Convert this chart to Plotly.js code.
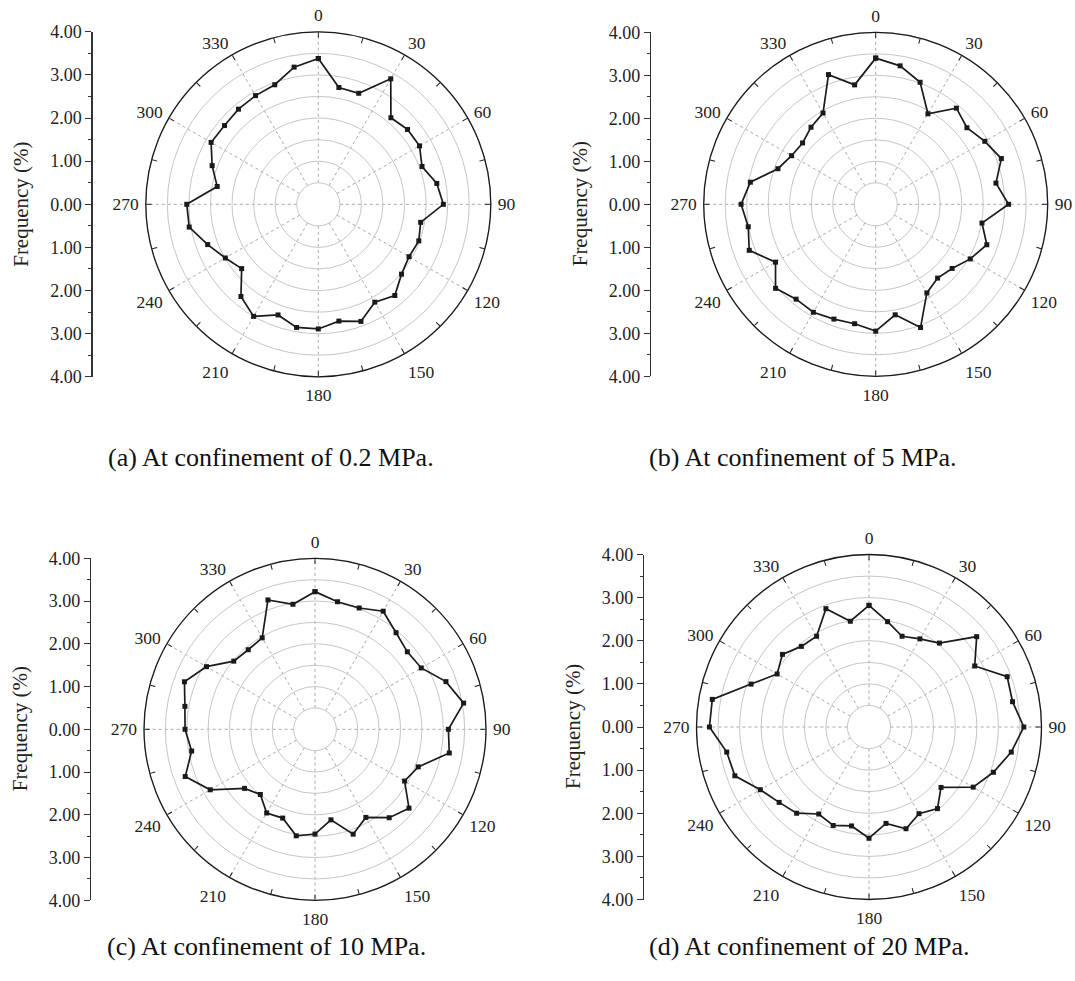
<!DOCTYPE html>
<html>
<head>
<meta charset="utf-8">
<script src="https://cdn.plot.ly/plotly-3.0.1.min.js"></script>
<style>
  html, body { margin: 0; padding: 0; background: #ffffff; }
  #chart { width: 1075px; height: 981px; }
</style>
</head>
<body>
<div id="chart"></div>
<script>
// Orientation of the sampled directions (degrees, clockwise from north)
const directions = [0, 10, 20, 30, 40, 50, 60, 70, 80, 90, 100, 110, 120, 130, 140, 150, 160, 170,
                    180, 190, 200, 210, 220, 230, 240, 250, 260, 270, 280, 290, 300, 310, 320, 330, 340, 350];

// Frequency (%) per direction at each confinement level
const freq02MPa = [3.38, 2.75, 2.74, 3.36, 2.62, 2.70, 2.71, 2.56, 2.79, 2.90, 2.41, 2.48, 2.43, 2.52, 2.76, 2.62, 2.89, 2.75,
                   2.89, 2.90, 2.73, 3.00, 2.79, 2.32, 2.49, 2.73, 3.04, 3.05, 2.38, 2.62, 2.87, 2.84, 2.88, 2.91, 2.95, 3.23];
const freq5MPa  = [3.40, 3.27, 3.02, 2.43, 2.92, 2.77, 2.93, 3.11, 2.84, 3.09, 2.51, 2.75, 2.54, 2.32, 2.24, 2.38, 3.05, 2.61,
                   2.95, 2.82, 2.84, 2.90, 2.88, 3.04, 2.69, 3.13, 3.01, 3.13, 2.96, 2.42, 2.26, 2.22, 2.34, 2.45, 3.21, 2.82];
const freq10MPa = [3.22, 3.03, 3.02, 3.19, 2.95, 2.82, 2.87, 3.26, 3.53, 3.12, 3.19, 2.57, 2.42, 2.87, 2.70, 2.38, 2.61, 2.15,
                   2.45, 2.53, 2.21, 2.26, 1.99, 2.15, 2.83, 3.23, 2.93, 3.04, 3.09, 3.25, 2.93, 2.48, 2.43, 2.47, 3.22, 2.97];
const freq20MPa = [2.82, 2.48, 2.24, 2.36, 2.54, 3.26, 2.83, 3.41, 3.38, 3.59, 3.35, 3.07, 2.79, 2.18, 2.47, 2.32, 2.51, 2.27,
                   2.58, 2.33, 2.43, 2.33, 2.61, 2.72, 2.91, 3.31, 3.35, 3.70, 3.69, 2.91, 2.46, 2.62, 2.44, 2.43, 2.92, 2.49];

// Angular tick labels and radial scale labels
const angleTicks = [0, 30, 60, 90, 120, 150, 180, 210, 240, 270, 300, 330];
const angleTickText = ['0', '30', '60', '90', '120', '150', '180', '210', '240', '270', '300', '330'];
const angleAllTicks = [0, 15, 30, 45, 60, 75, 90, 105, 120, 135, 150, 165, 180, 195, 210, 225, 240, 255,
                       270, 285, 300, 315, 330, 345];
const scaleVals = [-4, -3, -2, -1, 0, 1, 2, 3, 4];
const scaleText = ['4.00', '3.00', '2.00', '1.00', '0.00', '1.00', '2.00', '3.00', '4.00'];

const captions = ['(a) At confinement of 0.2 MPa.', '(b) At confinement of 5 MPa.',
                  '(c) At confinement of 10 MPa.', '(d) At confinement of 20 MPa.'];
const seriesList = [freq02MPa, freq5MPa, freq10MPa, freq20MPa];

// Page geometry (pixels)
const W = 1075, H = 981;
const panels = [
  { cx: 318.3, cy: 204.3, R: 172.5, axisX: 92.5, capX: 106, capY: 457 },
  { cx: 875.7, cy: 204.3, R: 172.0, axisX: 651,  capX: 647, capY: 457 },
  { cx: 315.0, cy: 729.3, R: 171.0, axisX: 91,   capX: 105, capY: 946 },
  { cx: 869.0, cy: 727.0, R: 172.5, axisX: 644,  capX: 647, capY: 946 }
];

const serif = 'Liberation Serif, Times New Roman, serif';
const ink = '#1a1a1a';
const gridGrey = '#c6c6c6';

const data = [];
const layout = {
  width: W, height: H,
  margin: { l: 0, r: 0, t: 0, b: 0 },
  paper_bgcolor: '#ffffff',
  plot_bgcolor: 'rgba(0,0,0,0)',
  font: { family: serif, color: '#222' },
  showlegend: false,
  annotations: []
};

panels.forEach((p, i) => {
  const n = i + 1;
  const suf = n === 1 ? '' : String(n);
  const dom = {
    x: [(p.cx - p.R) / W, (p.cx + p.R) / W],
    y: [1 - (p.cy + p.R) / H, 1 - (p.cy - p.R) / H]
  };

  // Main polar frame: hole of 0.5 units so that r still maps linearly from the centre.
  // Its frame line is grey (inner ring); the black rim comes from the overlay frame.
  layout['polar' + suf] = {
    domain: dom,
    hole: 0.125,
    bgcolor: '#ffffff',
    radialaxis: {
      range: [0.5, 4], tick0: 0, dtick: 0.5,
      showticklabels: false, ticks: '', showline: false,
      gridcolor: gridGrey, gridwidth: 1
    },
    angularaxis: {
      rotation: 90, direction: 'clockwise',
      tickmode: 'array', tickvals: angleTicks, ticktext: angleTickText,
      ticks: 'outside', ticklen: 3, tickcolor: 'rgba(0,0,0,0)',
      linecolor: gridGrey, linewidth: 1,
      gridcolor: '#a9a9a9', griddash: '3px,3px', gridwidth: 1,
      tickfont: { family: serif, size: 17.5, color: '#222' }
    }
  };

  // Overlay frame: black rim plus inward ticks every 15 degrees
  const ovl = 'polar' + (n + 4);
  layout[ovl] = {
    domain: dom,
    bgcolor: 'rgba(0,0,0,0)',
    radialaxis: { visible: false, range: [0, 4] },
    angularaxis: {
      rotation: 90, direction: 'clockwise',
      tickmode: 'array', tickvals: angleAllTicks,
      ticks: 'inside', ticklen: 5, tickcolor: ink, tickwidth: 1,
      showticklabels: false, showgrid: false,
      showline: true, linecolor: ink, linewidth: 1.3
    }
  };
  data.push({ type: 'scatterpolar', subplot: ovl, r: [], theta: [], mode: 'lines', hoverinfo: 'skip' });

  // Frequency rose, closed back onto its first direction
  const vals = seriesList[i];
  data.push({
    type: 'scatterpolar',
    subplot: 'polar' + suf,
    r: vals.concat([vals[0]]),
    theta: directions.concat([directions[0]]),
    mode: 'lines+markers',
    line: { color: ink, width: 1.7 },
    marker: { symbol: 'square', size: 5, color: ink },
    cliponaxis: false
  });

  // Vertical frequency scale at the left of each rose
  const xa = 'xaxis' + suf, ya = 'yaxis' + suf;
  layout[xa] = {
    domain: [p.axisX / W, (p.axisX + 5) / W],
    range: [0, 1], visible: false, fixedrange: true,
    anchor: 'y' + suf
  };
  layout[ya] = {
    domain: dom.y,
    range: [-4, 4],
    anchor: 'x' + suf,
    tickmode: 'array', tickvals: scaleVals, ticktext: scaleText,
    ticks: 'outside', ticklen: 6, tickwidth: 1, tickcolor: '#333',
    minor: { tickmode: 'linear', tick0: 0, dtick: 0.5, ticks: 'outside', ticklen: 3, tickwidth: 1, tickcolor: '#333' },
    showline: true, linecolor: '#333', linewidth: 1.2,
    showgrid: false, zeroline: false, fixedrange: true,
    tickfont: { family: serif, size: 18, color: '#222' }
  };
  data.push({ type: 'scatter', x: [], y: [], xaxis: 'x' + suf, yaxis: 'y' + suf, hoverinfo: 'skip' });

  layout.annotations.push({
    text: 'Frequency (%)', textangle: -90,
    xref: 'paper', yref: 'paper',
    x: (p.axisX - 71) / W, y: 1 - p.cy / H,
    xanchor: 'center', yanchor: 'middle', showarrow: false,
    font: { family: serif, size: 21, color: '#222' }
  });

  layout.annotations.push({
    text: captions[i],
    xref: 'paper', yref: 'paper',
    x: p.capX / W, y: 1 - p.capY / H,
    xanchor: 'left', yanchor: 'middle', showarrow: false,
    font: { family: serif, size: 26, color: '#111' }
  });
});

Plotly.newPlot('chart', data, layout, { staticPlot: true, displayModeBar: false });
</script>
</body>
</html>
